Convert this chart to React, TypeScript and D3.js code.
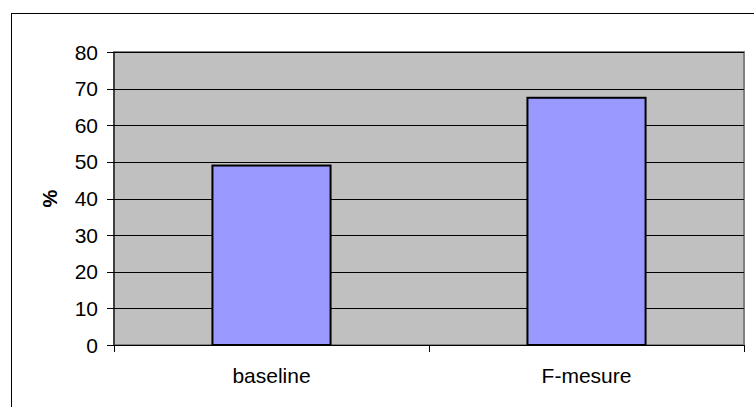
import React from "react";
import * as d3 from "d3";

const categories: string[] = ["baseline", "F-mesure"];
const values: number[] = [49, 67.5];
const yTicks: number[] = [0, 10, 20, 30, 40, 50, 60, 70, 80];
const yLabel = "%";

export default function App() {
  const W = 754, H = 407;
  const left = 114, right = 744, top = 52, bottom = 345;
  const x = d3.scaleBand<string>().domain(categories).range([left, right]).paddingInner(0).paddingOuter(0);
  const y = d3.scaleLinear().domain([0, 80]).range([bottom, top]);
  const barW = x.bandwidth() * 0.375;
  const font = "Arial, 'Liberation Sans', sans-serif";
  const boundaries = [left, ...categories.map((c) => (x(c) as number) + x.bandwidth())];

  return (
    <svg width={W} height={H} style={{ position: "absolute", left: 0, top: 0, background: "#fff" }}>
      <rect x={11.5} y={13.5} width={W + 20} height={H + 20} fill="#fff" stroke="#000" strokeWidth={1} />
      <rect x={left} y={top} width={right - left} height={bottom - top} fill="#C0C0C0" stroke="#808080" strokeWidth={2} />
      {yTicks.filter((t) => t > 0).map((t) => (
        <line key={t} x1={left} x2={right} y1={Math.round(y(t)) + 0.5} y2={Math.round(y(t)) + 0.5} stroke="#000" strokeWidth={1} />
      ))}
      {categories.map((c, i) => {
        const cx = (x(c) as number) + x.bandwidth() / 2;
        return (
          <rect key={c} x={cx - barW / 2} y={y(values[i])} width={barW} height={bottom - y(values[i])} fill="#9999FF" stroke="#000" strokeWidth={2} />
        );
      })}
      <line x1={left} x2={left} y1={top} y2={bottom} stroke="#000" strokeWidth={1} />
      <line x1={left} x2={right} y1={bottom + 0.5} y2={bottom + 0.5} stroke="#000" strokeWidth={1} />
      {yTicks.map((t) => (
        <g key={t}>
          <line x1={107} x2={left} y1={Math.round(y(t)) + 0.5} y2={Math.round(y(t)) + 0.5} stroke="#000" strokeWidth={1} />
          <text x={98} y={y(t)} textAnchor="end" dominantBaseline="central" fontFamily={font} fontSize={21} fill="#000">{t}</text>
        </g>
      ))}
      {boundaries.map((b, i) => (
        <line key={i} x1={Math.round(b) + 0.5} x2={Math.round(b) + 0.5} y1={bottom} y2={352} stroke="#000" strokeWidth={1} />
      ))}
      {categories.map((c) => (
        <text key={c} x={(x(c) as number) + x.bandwidth() / 2} y={383} textAnchor="middle" fontFamily={font} fontSize={21} fill="#000">{c}</text>
      ))}
      <text transform={`translate(57, ${(top + bottom) / 2}) rotate(-90)`} textAnchor="middle" fontFamily={font} fontSize={20} fontWeight="bold" fill="#000">{yLabel}</text>
    </svg>
  );
}
